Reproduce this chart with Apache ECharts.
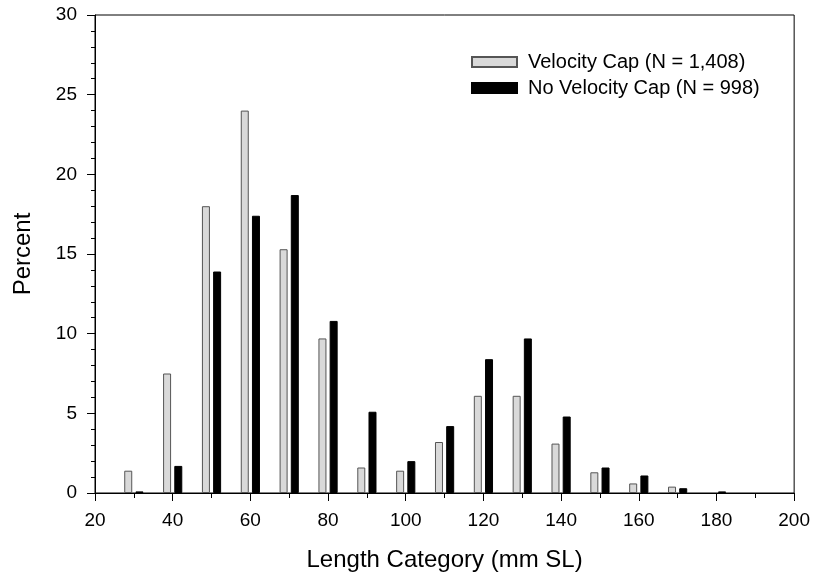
<!DOCTYPE html>
<html>
<head>
<meta charset="utf-8">
<script src="https://cdn.jsdelivr.net/npm/echarts@6/dist/echarts.min.js"></script>
<style>
  html, body { margin: 0; padding: 0; background: #fff; }
  #chart { width: 813px; height: 580px; }
</style>
</head>
<body>
<div id="chart"></div>
<script>
// 长度类别 (mm SL)
const categories = [30, 40, 50, 60, 70, 80, 90, 100, 110, 120, 130, 140, 150, 160, 170, 180];
// Velocity Cap (N = 1,408)
const velocityCap = [1.4, 7.5, 18.0, 24.0, 15.3, 9.7, 1.6, 1.4, 3.2, 6.1, 6.1, 3.1, 1.3, 0.6, 0.4, '-'];
// No Velocity Cap (N = 998)
const noVelocityCap = [0.1, 1.7, 13.9, 17.4, 18.7, 10.8, 5.1, 2.0, 4.2, 8.4, 9.7, 4.8, 1.6, 1.1, 0.3, 0.1];

const xTicks = { min: 20, max: 200, interval: 20 };
const yTicks = { min: 0, max: 30, interval: 5 };

const FONT = '"Liberation Sans", Arial, sans-serif';

function pairs(values) {
  return categories.map((c, i) => [c, values[i]]);
}

const chart = echarts.init(document.getElementById('chart'));

const option = {
  backgroundColor: '#fff',
  animation: false,
  textStyle: { fontFamily: FONT },
  grid: {
    left: 95,
    right: 17,
    top: 15,
    bottom: 87,
    show: true,
    borderColor: '#000',
    borderWidth: 1,
    backgroundColor: 'transparent'
  },
  legend: {
    orient: 'vertical',
    left: 471,
    top: 52,
    padding: 0,
    itemWidth: 45,
    itemHeight: 10,
    itemGap: 6,
    icon: 'rect',
    textStyle: { fontFamily: FONT, fontSize: 20, color: '#000', padding: [0, 0, 0, 6] },
    data: ['Velocity Cap (N = 1,408)', 'No Velocity Cap (N = 998)']
  },
  xAxis: {
    type: 'value',
    min: xTicks.min,
    max: xTicks.max,
    interval: xTicks.interval,
    name: 'Length Category (mm SL)',
    nameLocation: 'middle',
    nameGap: 55,
    nameTextStyle: { fontFamily: FONT, fontSize: 24, color: '#000' },
    axisLine: { show: true, lineStyle: { color: '#000', width: 1 } },
    axisTick: { show: true, length: 8, lineStyle: { color: '#000' } },
    minorTick: { show: true, splitNumber: 2, length: 5, lineStyle: { color: '#000' } },
    axisLabel: { fontFamily: FONT, fontSize: 19, color: '#000', margin: 18 },
    splitLine: { show: false }
  },
  yAxis: {
    type: 'value',
    min: yTicks.min,
    max: yTicks.max,
    interval: yTicks.interval,
    name: 'Percent',
    nameLocation: 'middle',
    nameGap: 60,
    nameTextStyle: { fontFamily: FONT, fontSize: 24, color: '#000' },
    axisLine: { show: true, lineStyle: { color: '#000', width: 1 } },
    axisTick: { show: true, length: 8, lineStyle: { color: '#000' } },
    minorTick: { show: true, splitNumber: 5, length: 4, lineStyle: { color: '#000' } },
    axisLabel: { fontFamily: FONT, fontSize: 19, color: '#000', margin: 18 },
    splitLine: { show: false }
  },
  series: [
    {
      name: 'Velocity Cap (N = 1,408)',
      type: 'bar',
      data: pairs(velocityCap),
      barWidth: 8,
      barGap: '40%',
      itemStyle: { color: '#d9d9d9', borderColor: '#555', borderWidth: 1 }
    },
    {
      name: 'No Velocity Cap (N = 998)',
      type: 'bar',
      data: pairs(noVelocityCap),
      barWidth: 8,
      barGap: '40%',
      itemStyle: { color: '#000', borderColor: '#000', borderWidth: 1 }
    }
  ]
};

chart.setOption(option);
</script>
</body>
</html>
